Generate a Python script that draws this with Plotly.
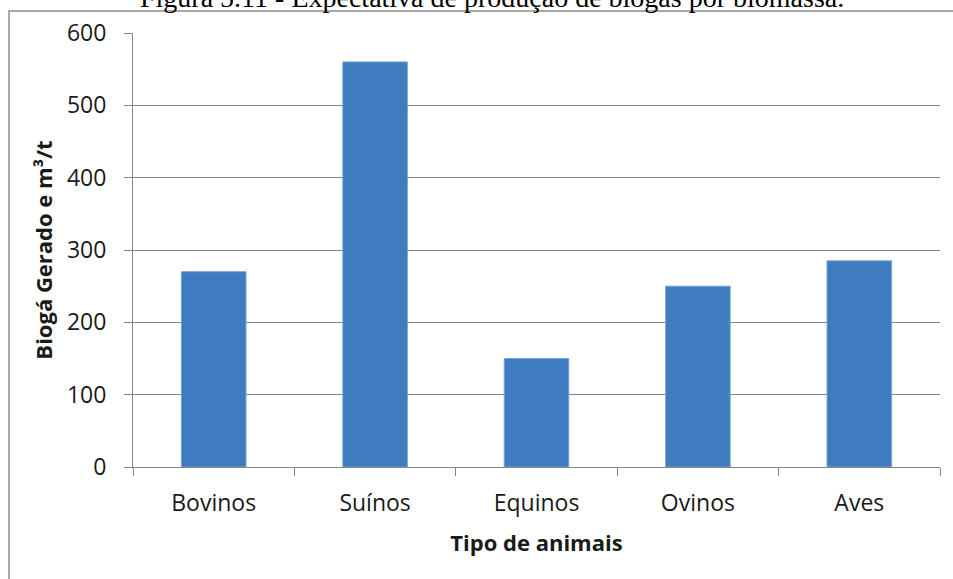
import plotly.graph_objects as go

categories = ["Bovinos", "Suínos", "Equinos", "Ovinos", "Aves"]
values = [270, 560, 150, 250, 285]
y_ticks = [0, 100, 200, 300, 400, 500, 600]

W, H = 953, 579
L, R, T, B = 133, 13, 33, 112
pw, ph = W - L - R, H - T - B

def px_x(x):
    return (x - L) / pw

def px_y(y):
    return (H - B - y) / ph

fig = go.Figure(go.Bar(
    x=categories, y=values,
    marker=dict(color="#3F7BBF", line=dict(color="#78A2D6", width=1)),
    width=0.4,
))

font_tick = dict(family="Open Sans", size=23, color="#1a1a1a")
font_title = dict(family="Open Sans", size=22, color="#1a1a1a")

fig.update_layout(
    width=W, height=H,
    margin=dict(l=L, r=R, t=T, b=B, pad=0),
    paper_bgcolor="white", plot_bgcolor="white",
    showlegend=False,
    xaxis=dict(
        showline=True, linecolor="#868686", linewidth=1,
        ticks="outside", ticklen=8, tickcolor="#868686", tickson="boundaries",
        ticklabelstandoff=15,
        tickfont=font_tick, showgrid=False,
        title=dict(text="<b>Tipo de animais</b>", font=font_title, standoff=19),
    ),
    yaxis=dict(
        range=[0, 600], tickvals=y_ticks,
        showline=True, linecolor="#868686", linewidth=1,
        ticks="outside", ticklen=8, tickcolor="#868686",
        ticklabelstandoff=13,
        showgrid=True, gridcolor="#868686", gridwidth=1,
        zeroline=False,
        tickfont=font_tick,
        title=dict(text="<b>Biogá Gerado e m³/t</b>", font=font_title, standoff=8),
    ),
    shapes=[dict(
        type="rect", xref="paper", yref="paper",
        x0=px_x(9), x1=px_x(1000), y0=px_y(700), y1=px_y(11),
        line=dict(color="#8c8c8c", width=1.5), fillcolor="rgba(0,0,0,0)", layer="below",
    )],
    annotations=[dict(
        text="Figura 5.11 - Expectativa de produção de biogás por biomassa.",
        xref="paper", yref="paper", x=px_x(492), y=px_y(15),
        xanchor="center", yanchor="bottom", showarrow=False,
        font=dict(family="Liberation Serif", size=28, color="#000000"),
    )],
)

fig.write_html("out.html")
